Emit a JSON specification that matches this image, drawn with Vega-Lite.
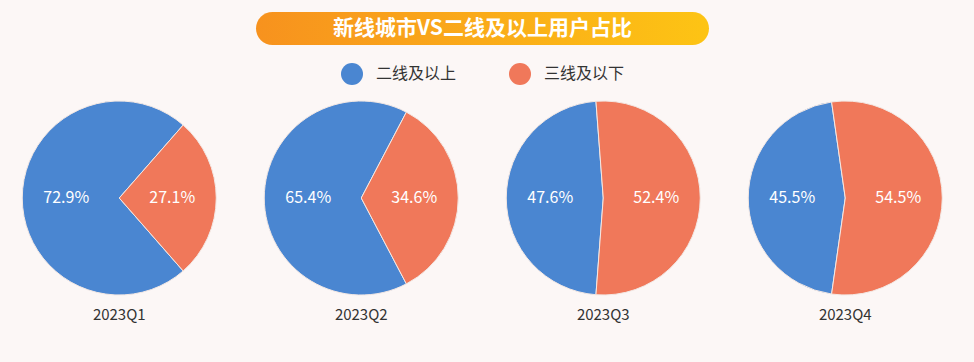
{
  "$schema": "https://vega.github.io/schema/vega-lite/v6.json",
  "background": "#fcf7f6",
  "padding": {"left": 21, "top": 12, "right": 40, "bottom": 60},
  "config": {
    "font": "Noto Sans CJK SC",
    "view": {"stroke": null},
    "legend": {
      "orient": "none",
      "legendX": 319,
      "legendY": 51,
      "direction": "horizontal",
      "title": null,
      "symbolType": "circle",
      "symbolSize": 484,
      "symbolStrokeWidth": 0,
      "symbolOpacity": 1,
      "labelFontSize": 16,
      "labelColor": "#333333",
      "labelFont": "Noto Sans CJK SC",
      "labelOffset": 13,
      "columnPadding": 52,
      "padding": 0
    }
  },
  "data": {
    "values": [
      {"quarter": "2023Q1", "type": "二线及以上", "share": 0.729},
      {"quarter": "2023Q1", "type": "三线及以下", "share": 0.271},
      {"quarter": "2023Q2", "type": "二线及以上", "share": 0.654},
      {"quarter": "2023Q2", "type": "三线及以下", "share": 0.346},
      {"quarter": "2023Q3", "type": "二线及以上", "share": 0.476},
      {"quarter": "2023Q3", "type": "三线及以下", "share": 0.524},
      {"quarter": "2023Q4", "type": "二线及以上", "share": 0.455},
      {"quarter": "2023Q4", "type": "三线及以下", "share": 0.545}
    ]
  },
  "vconcat": [
    {
      "width": 453,
      "height": 33,
      "view": {
        "fill": {"gradient": "linear", "x1": 0, "y1": 0, "x2": 1, "y2": 0,
          "stops": [{"offset": 0, "color": "#f7921e"}, {"offset": 1, "color": "#fdc414"}]},
        "cornerRadius": 16.5,
        "stroke": null
      },
      "data": {"values": [{"title": "新线城市VS二线及以上用户占比"}]},
      "mark": {"type": "text", "color": "#ffffff", "fontSize": 21, "fontWeight": "bold", "align": "center", "baseline": "middle", "font": "Noto Sans CJK SC"},
      "encoding": {"text": {"field": "title"}}
    },
    {
      "hconcat": [
        {
          "width": 194, "height": 194,
          "title": {"text": "2023Q1", "orient": "bottom", "offset": 12, "fontSize": 15, "fontWeight": "normal", "color": "#333333", "font": "Noto Sans CJK SC"},
          "transform": [{"filter": "datum.quarter === '2023Q1'"}],
          "encoding": {
            "theta": {"field": "share", "type": "quantitative", "stack": true, "scale": {"domain": [0, 1], "range": [0.71942, 7.00261]}},
            "order": {"field": "type", "sort": "ascending"},
            "color": {"field": "type", "type": "nominal", "scale": {"domain": ["二线及以上", "三线及以下"], "range": ["#4a86d1", "#f0785a"]}}
          },
          "layer": [
            {"mark": {"type": "arc", "outerRadius": 97, "stroke": "#f3e8e4", "strokeWidth": 1, "strokeJoin": "round"}},
            {"mark": {"type": "text", "radius": 53, "fontSize": 16, "color": "#ffffff", "font": "Noto Sans CJK SC"},
             "encoding": {"text": {"field": "share", "type": "quantitative", "format": ".1%"}, "color": {"value": "#ffffff"}}}
          ]
        },
        {
          "width": 194, "height": 194,
          "title": {"text": "2023Q2", "orient": "bottom", "offset": 12, "fontSize": 15, "fontWeight": "normal", "color": "#333333", "font": "Noto Sans CJK SC"},
          "transform": [{"filter": "datum.quarter === '2023Q2'"}],
          "encoding": {
            "theta": {"field": "share", "type": "quantitative", "stack": true, "scale": {"domain": [0, 1], "range": [0.48381, 6.76699]}},
            "order": {"field": "type", "sort": "ascending"},
            "color": {"field": "type", "type": "nominal", "scale": {"domain": ["二线及以上", "三线及以下"], "range": ["#4a86d1", "#f0785a"]}}
          },
          "layer": [
            {"mark": {"type": "arc", "outerRadius": 97, "stroke": "#f3e8e4", "strokeWidth": 1, "strokeJoin": "round"}},
            {"mark": {"type": "text", "radius": 53, "fontSize": 16, "color": "#ffffff", "font": "Noto Sans CJK SC"},
             "encoding": {"text": {"field": "share", "type": "quantitative", "format": ".1%"}, "color": {"value": "#ffffff"}}}
          ]
        },
        {
          "width": 194, "height": 194,
          "title": {"text": "2023Q3", "orient": "bottom", "offset": 12, "fontSize": 15, "fontWeight": "normal", "color": "#333333", "font": "Noto Sans CJK SC"},
          "transform": [{"filter": "datum.quarter === '2023Q3'"}],
          "encoding": {
            "theta": {"field": "share", "type": "quantitative", "stack": true, "scale": {"domain": [0, 1], "range": [-0.07539, 6.20779]}},
            "order": {"field": "type", "sort": "ascending"},
            "color": {"field": "type", "type": "nominal", "scale": {"domain": ["二线及以上", "三线及以下"], "range": ["#4a86d1", "#f0785a"]}}
          },
          "layer": [
            {"mark": {"type": "arc", "outerRadius": 97, "stroke": "#f3e8e4", "strokeWidth": 1, "strokeJoin": "round"}},
            {"mark": {"type": "text", "radius": 53, "fontSize": 16, "color": "#ffffff", "font": "Noto Sans CJK SC"},
             "encoding": {"text": {"field": "share", "type": "quantitative", "format": ".1%"}, "color": {"value": "#ffffff"}}}
          ]
        },
        {
          "width": 194, "height": 194,
          "title": {"text": "2023Q4", "orient": "bottom", "offset": 12, "fontSize": 15, "fontWeight": "normal", "color": "#333333", "font": "Noto Sans CJK SC"},
          "transform": [{"filter": "datum.quarter === '2023Q4'"}],
          "encoding": {
            "theta": {"field": "share", "type": "quantitative", "stack": true, "scale": {"domain": [0, 1], "range": [-0.14137, 6.14181]}},
            "order": {"field": "type", "sort": "ascending"},
            "color": {"field": "type", "type": "nominal", "scale": {"domain": ["二线及以上", "三线及以下"], "range": ["#4a86d1", "#f0785a"]}}
          },
          "layer": [
            {"mark": {"type": "arc", "outerRadius": 97, "stroke": "#f3e8e4", "strokeWidth": 1, "strokeJoin": "round"}},
            {"mark": {"type": "text", "radius": 53, "fontSize": 16, "color": "#ffffff", "font": "Noto Sans CJK SC"},
             "encoding": {"text": {"field": "share", "type": "quantitative", "format": ".1%"}, "color": {"value": "#ffffff"}}}
          ]
        }
      ],
      "spacing": 46,
      "resolve": {"scale": {"theta": "independent"}}
    }
  ],
  "spacing": 55,
  "center": true
}
